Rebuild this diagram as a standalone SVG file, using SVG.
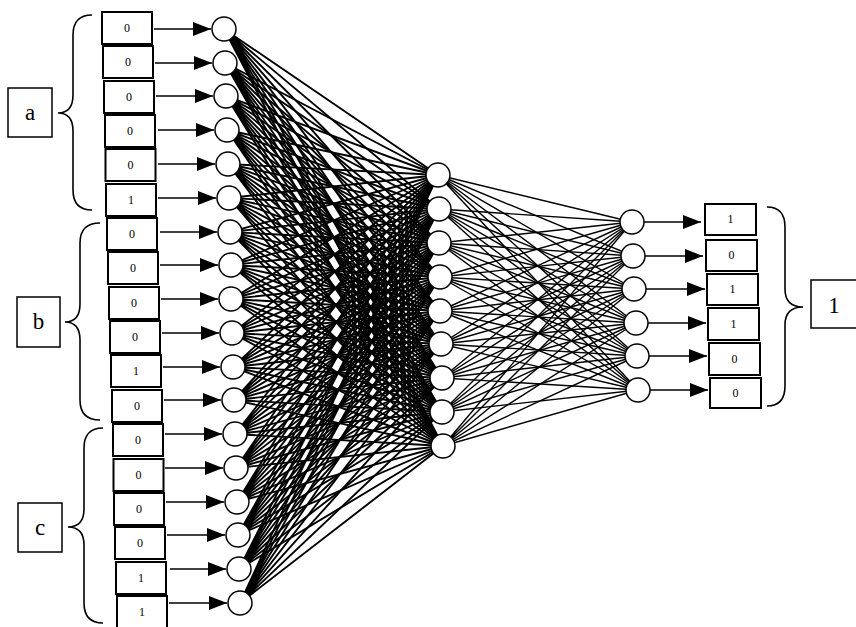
<svg xmlns="http://www.w3.org/2000/svg" width="856" height="627" viewBox="0 0 856 627">
<style>
.bx{fill:#fff;stroke:#000;stroke-width:2}
.t{font-family:"Liberation Serif",serif;font-size:12px;text-anchor:middle;fill:#000}
.lt{font-family:"Liberation Serif",serif;font-size:23px;text-anchor:middle;fill:#000}
.lb{fill:#fff;stroke:#000;stroke-width:1.5}
.br{fill:none;stroke:#000;stroke-width:1.6}
.n{fill:#fff;stroke:#000;stroke-width:1.5}
.c1{fill:none;stroke:#000;stroke-width:1.9}
.c2{fill:none;stroke:#000;stroke-width:1.4}
.ar{stroke:#000;stroke-width:1.5;marker-end:url(#ah)}
</style>
<defs>
<marker id="ah" markerUnits="userSpaceOnUse" markerWidth="18" markerHeight="14" refX="18" refY="7" orient="auto"><path d="M0,0L18,7L0,14z" fill="#000"/></marker>
</defs>
<rect width="856" height="627" fill="#fff"/>
<g id="connectors">
<path class="c1" d="M224,29L438,175M224,29L439,209M224,29L439,243M224,29L440,277M224,29L440,311M224,29L441,344M224,29L442,378M224,29L442,412M224,29L443,446"/>
<path class="c1" d="M225,63L438,175M225,63L439,209M225,63L439,243M225,63L440,277M225,63L440,311M225,63L441,344M225,63L442,378M225,63L442,412M225,63L443,446"/>
<path class="c1" d="M226,96L438,175M226,96L439,209M226,96L439,243M226,96L440,277M226,96L440,311M226,96L441,344M226,96L442,378M226,96L442,412M226,96L443,446"/>
<path class="c1" d="M227,130L438,175M227,130L439,209M227,130L439,243M227,130L440,277M227,130L440,311M227,130L441,344M227,130L442,378M227,130L442,412M227,130L443,446"/>
<path class="c1" d="M228,164L438,175M228,164L439,209M228,164L439,243M228,164L440,277M228,164L440,311M228,164L441,344M228,164L442,378M228,164L442,412M228,164L443,446"/>
<path class="c1" d="M229,198L438,175M229,198L439,209M229,198L439,243M229,198L440,277M229,198L440,311M229,198L441,344M229,198L442,378M229,198L442,412M229,198L443,446"/>
<path class="c1" d="M230,232L438,175M230,232L439,209M230,232L439,243M230,232L440,277M230,232L440,311M230,232L441,344M230,232L442,378M230,232L442,412M230,232L443,446"/>
<path class="c1" d="M231,265L438,175M231,265L439,209M231,265L439,243M231,265L440,277M231,265L440,311M231,265L441,344M231,265L442,378M231,265L442,412M231,265L443,446"/>
<path class="c1" d="M231,299L438,175M231,299L439,209M231,299L439,243M231,299L440,277M231,299L440,311M231,299L441,344M231,299L442,378M231,299L442,412M231,299L443,446"/>
<path class="c1" d="M232,333L438,175M232,333L439,209M232,333L439,243M232,333L440,277M232,333L440,311M232,333L441,344M232,333L442,378M232,333L442,412M232,333L443,446"/>
<path class="c1" d="M233,367L438,175M233,367L439,209M233,367L439,243M233,367L440,277M233,367L440,311M233,367L441,344M233,367L442,378M233,367L442,412M233,367L443,446"/>
<path class="c1" d="M234,400L438,175M234,400L439,209M234,400L439,243M234,400L440,277M234,400L440,311M234,400L441,344M234,400L442,378M234,400L442,412M234,400L443,446"/>
<path class="c1" d="M235,434L438,175M235,434L439,209M235,434L439,243M235,434L440,277M235,434L440,311M235,434L441,344M235,434L442,378M235,434L442,412M235,434L443,446"/>
<path class="c1" d="M236,468L438,175M236,468L439,209M236,468L439,243M236,468L440,277M236,468L440,311M236,468L441,344M236,468L442,378M236,468L442,412M236,468L443,446"/>
<path class="c1" d="M237,502L438,175M237,502L439,209M237,502L439,243M237,502L440,277M237,502L440,311M237,502L441,344M237,502L442,378M237,502L442,412M237,502L443,446"/>
<path class="c1" d="M238,535L438,175M238,535L439,209M238,535L439,243M238,535L440,277M238,535L440,311M238,535L441,344M238,535L442,378M238,535L442,412M238,535L443,446"/>
<path class="c1" d="M239,569L438,175M239,569L439,209M239,569L439,243M239,569L440,277M239,569L440,311M239,569L441,344M239,569L442,378M239,569L442,412M239,569L443,446"/>
<path class="c1" d="M240,603L438,175M240,603L439,209M240,603L439,243M240,603L440,277M240,603L440,311M240,603L441,344M240,603L442,378M240,603L442,412M240,603L443,446"/>
<path class="c2" d="M438,175L632,222M438,175L633,256M438,175L634,289M438,175L636,323M438,175L637,356M438,175L638,390"/>
<path class="c2" d="M439,209L632,222M439,209L633,256M439,209L634,289M439,209L636,323M439,209L637,356M439,209L638,390"/>
<path class="c2" d="M439,243L632,222M439,243L633,256M439,243L634,289M439,243L636,323M439,243L637,356M439,243L638,390"/>
<path class="c2" d="M440,277L632,222M440,277L633,256M440,277L634,289M440,277L636,323M440,277L637,356M440,277L638,390"/>
<path class="c2" d="M440,311L632,222M440,311L633,256M440,311L634,289M440,311L636,323M440,311L637,356M440,311L638,390"/>
<path class="c2" d="M441,344L632,222M441,344L633,256M441,344L634,289M441,344L636,323M441,344L637,356M441,344L638,390"/>
<path class="c2" d="M442,378L632,222M442,378L633,256M442,378L634,289M442,378L636,323M442,378L637,356M442,378L638,390"/>
<path class="c2" d="M442,412L632,222M442,412L633,256M442,412L634,289M442,412L636,323M442,412L637,356M442,412L638,390"/>
<path class="c2" d="M443,446L632,222M443,446L633,256M443,446L634,289M443,446L636,323M443,446L637,356M443,446L638,390"/>
<line class="ar" x1="154" y1="29" x2="211" y2="29"/>
<line class="ar" x1="155" y1="63" x2="212" y2="63"/>
<line class="ar" x1="156" y1="96" x2="213" y2="96"/>
<line class="ar" x1="158" y1="130" x2="214" y2="130"/>
<line class="ar" x1="158" y1="164" x2="215" y2="164"/>
<line class="ar" x1="158" y1="198" x2="216" y2="198"/>
<line class="ar" x1="160" y1="232" x2="217" y2="232"/>
<line class="ar" x1="160" y1="265" x2="218" y2="265"/>
<line class="ar" x1="161" y1="299" x2="218" y2="299"/>
<line class="ar" x1="162" y1="333" x2="219" y2="333"/>
<line class="ar" x1="163" y1="367" x2="220" y2="367"/>
<line class="ar" x1="164" y1="400" x2="221" y2="400"/>
<line class="ar" x1="165" y1="434" x2="222" y2="434"/>
<line class="ar" x1="165" y1="468" x2="223" y2="468"/>
<line class="ar" x1="166" y1="502" x2="224" y2="502"/>
<line class="ar" x1="167" y1="535" x2="225" y2="535"/>
<line class="ar" x1="170" y1="569" x2="226" y2="569"/>
<line class="ar" x1="169" y1="603" x2="227" y2="603"/>
<line class="ar" x1="644" y1="222" x2="701" y2="222"/>
<line class="ar" x1="645" y1="256" x2="703" y2="256"/>
<line class="ar" x1="646" y1="289" x2="705" y2="289"/>
<line class="ar" x1="648" y1="323" x2="706" y2="323"/>
<line class="ar" x1="649" y1="356" x2="707" y2="356"/>
<line class="ar" x1="650" y1="390" x2="708" y2="390"/>
</g>
<g id="input-boxes">
<rect class="bx" x="102" y="12" width="50" height="32"/><text class="t" x="127" y="32">0</text>
<rect class="bx" x="103" y="46" width="50" height="32"/><text class="t" x="128" y="66">0</text>
<rect class="bx" x="104" y="81" width="50" height="32"/><text class="t" x="129" y="101">0</text>
<rect class="bx" x="105" y="115" width="50" height="32"/><text class="t" x="130" y="135">0</text>
<rect class="bx" x="105.5" y="149" width="50" height="32"/><text class="t" x="130.5" y="169">0</text>
<rect class="bx" x="106" y="184" width="50" height="32"/><text class="t" x="131" y="204">1</text>
<rect class="bx" x="107" y="218" width="50" height="32"/><text class="t" x="132" y="238">0</text>
<rect class="bx" x="108" y="252" width="50" height="32"/><text class="t" x="133" y="272">0</text>
<rect class="bx" x="109" y="287" width="50" height="32"/><text class="t" x="134" y="307">0</text>
<rect class="bx" x="110" y="321" width="50" height="32"/><text class="t" x="135" y="341">0</text>
<rect class="bx" x="111" y="355" width="50" height="32"/><text class="t" x="136" y="375">1</text>
<rect class="bx" x="112" y="390" width="50" height="32"/><text class="t" x="137" y="410">0</text>
<rect class="bx" x="113" y="424" width="50" height="32"/><text class="t" x="138" y="444">0</text>
<rect class="bx" x="113.5" y="459" width="50" height="32"/><text class="t" x="138.5" y="479">0</text>
<rect class="bx" x="114" y="493" width="50" height="32"/><text class="t" x="139" y="513">0</text>
<rect class="bx" x="115" y="527" width="50" height="32"/><text class="t" x="140" y="547">0</text>
<rect class="bx" x="116" y="562" width="50" height="32"/><text class="t" x="141" y="582">1</text>
<rect class="bx" x="117" y="596" width="50" height="32"/><text class="t" x="142" y="616">1</text>
</g>
<g id="input-neurons">
<circle class="n" cx="224" cy="29" r="12"/><circle class="n" cx="225" cy="63" r="12"/><circle class="n" cx="226" cy="96" r="12"/><circle class="n" cx="227" cy="130" r="12"/><circle class="n" cx="228" cy="164" r="12"/><circle class="n" cx="229" cy="198" r="12"/><circle class="n" cx="230" cy="232" r="12"/><circle class="n" cx="231" cy="265" r="12"/><circle class="n" cx="231" cy="299" r="12"/><circle class="n" cx="232" cy="333" r="12"/><circle class="n" cx="233" cy="367" r="12"/><circle class="n" cx="234" cy="400" r="12"/><circle class="n" cx="235" cy="434" r="12"/><circle class="n" cx="236" cy="468" r="12"/><circle class="n" cx="237" cy="502" r="12"/><circle class="n" cx="238" cy="535" r="12"/><circle class="n" cx="239" cy="569" r="12"/><circle class="n" cx="240" cy="603" r="12"/>
</g>
<g id="hidden-neurons">
<circle class="n" cx="438" cy="175" r="12"/><circle class="n" cx="439" cy="209" r="12"/><circle class="n" cx="439" cy="243" r="12"/><circle class="n" cx="440" cy="277" r="12"/><circle class="n" cx="440" cy="311" r="12"/><circle class="n" cx="441" cy="344" r="12"/><circle class="n" cx="442" cy="378" r="12"/><circle class="n" cx="442" cy="412" r="12"/><circle class="n" cx="443" cy="446" r="12"/>
</g>
<g id="output-neurons">
<circle class="n" cx="632" cy="222" r="12"/><circle class="n" cx="633" cy="256" r="12"/><circle class="n" cx="634" cy="289" r="12"/><circle class="n" cx="636" cy="323" r="12"/><circle class="n" cx="637" cy="356" r="12"/><circle class="n" cx="638" cy="390" r="12"/>
</g>
<g id="output-boxes">
<rect class="bx" x="705" y="204" width="51" height="31"/><text class="t" x="730.5" y="223">1</text>
<rect class="bx" x="706" y="240" width="51" height="31"/><text class="t" x="731.5" y="259">0</text>
<rect class="bx" x="707" y="274" width="51" height="31"/><text class="t" x="732.5" y="293">1</text>
<rect class="bx" x="708" y="308" width="51" height="32"/><text class="t" x="733.5" y="328">1</text>
<rect class="bx" x="709" y="343" width="51" height="32"/><text class="t" x="734.5" y="363">0</text>
<rect class="bx" x="710" y="378" width="51" height="30"/><text class="t" x="735.5" y="397">0</text>
</g>
<g id="label-a">
<path class="br" d="M92,15Q73,15 73,35L73,95Q73,113 58,113Q73,113 73,131L73,190Q73,210 92,210"/>
<rect class="lb" x="8" y="88" width="44" height="49"/><text class="lt" x="30" y="120">a</text>
</g>
<g id="label-b">
<path class="br" d="M100,223Q80,223 80,243L80,304Q80,322 65,322Q80,322 80,340L80,400Q80,420 100,420"/>
<rect class="lb" x="17" y="297" width="43" height="50"/><text class="lt" x="38.5" y="329">b</text>
</g>
<g id="label-c">
<path class="br" d="M103,428Q84,428 84,448L84,509Q84,527 68,527Q84,527 84,545L84,603Q84,623 103,623"/>
<rect class="lb" x="18" y="503" width="44" height="49"/><text class="lt" x="40" y="535">c</text>
</g>
<g id="label-1">
<path class="br" d="M767,207Q785,207 785,227L785,289Q785,307 803,307Q785,307 785,325L785,386Q785,406 767,406"/>
<rect class="lb" x="811" y="280" width="50" height="48"/><text class="lt" x="834" y="313">1</text>
</g>
</svg>
